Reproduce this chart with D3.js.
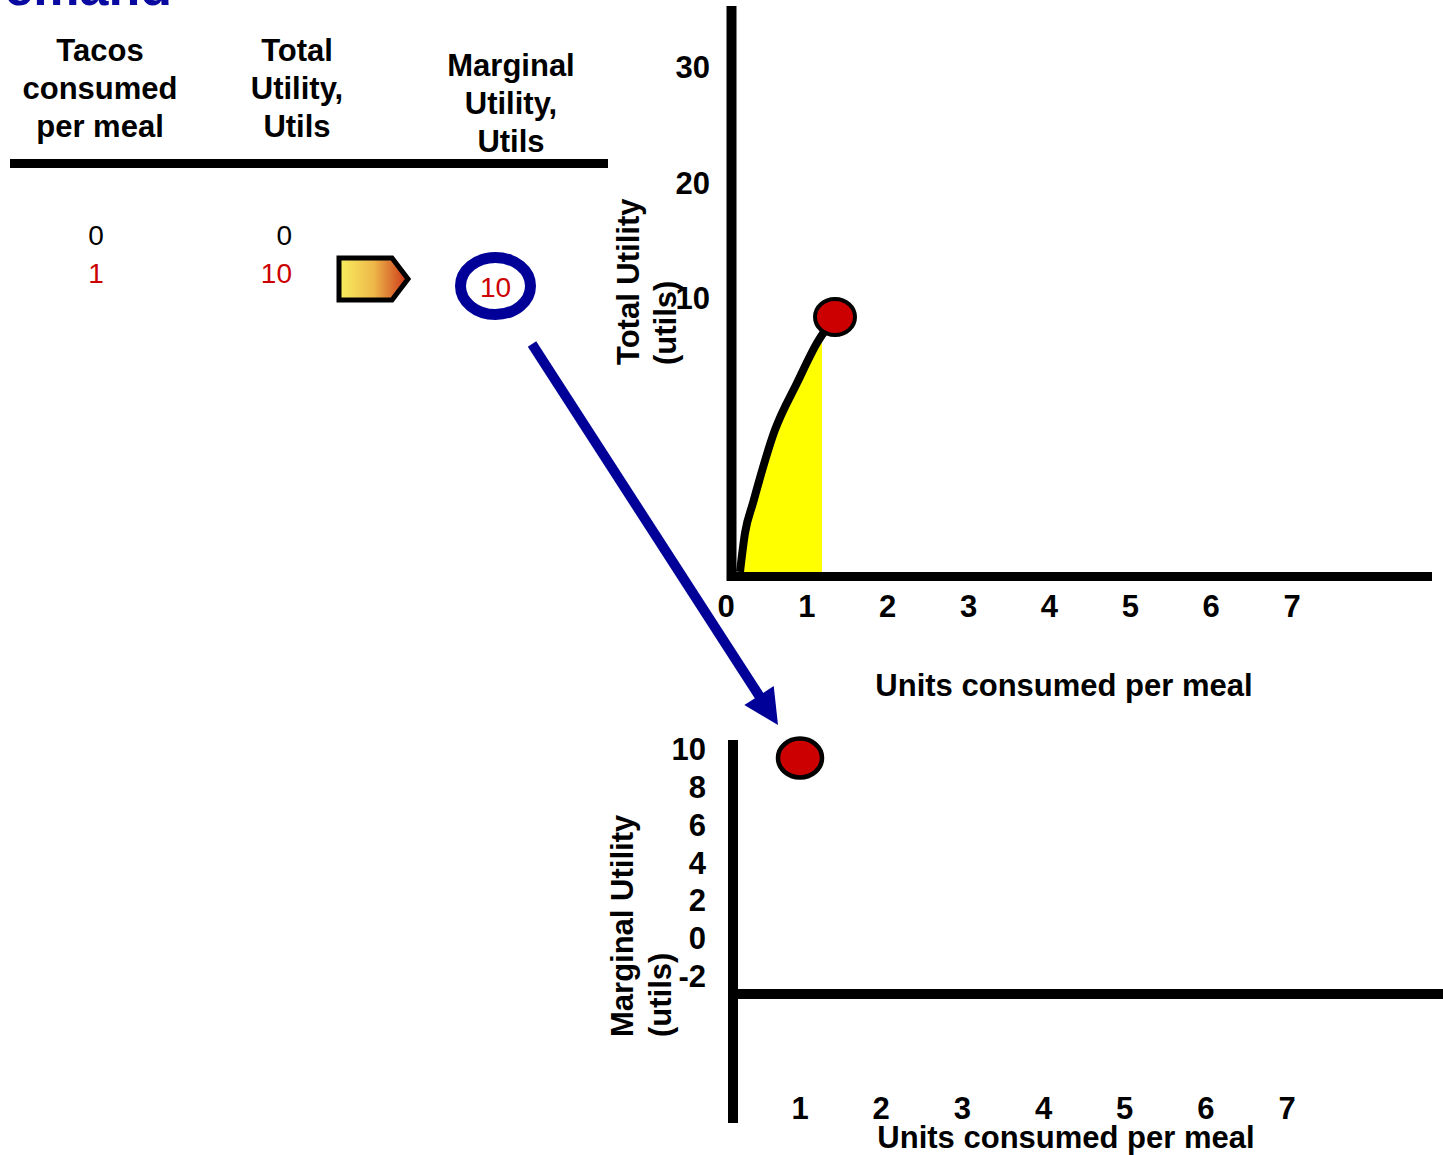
<!DOCTYPE html>
<html>
<head>
<meta charset="utf-8">
<script src="https://cdn.jsdelivr.net/npm/d3@7"></script>
<style>
  body { margin: 0; background: #fff; }
  text { font-family: Arial, "Liberation Sans", sans-serif; }
</style>
</head>
<body>
<div id="chart"></div>
<script>
// table data
var tacos = [0, 1];
var totalUtility = [0, 10];
var marginalUtility = [null, 10];
var headers = [
  ["Tacos", "consumed", "per meal"],
  ["Total", "Utility,", "Utils"],
  ["Marginal", "Utility,", "Utils"]
];

// tick labels
var topXTicks = [0, 1, 2, 3, 4, 5, 6, 7];
var topYTicks = [10, 20, 30];
var botXTicks = [1, 2, 3, 4, 5, 6, 7];
var botYTicks = [10, 8, 6, 4, 2, 0, -2];

// total utility curve as drawn (units, utils)
var curveX = [0, 0.053, 0.137, 0.368, 0.6, 0.81, 1];
var curveY = [0, 1.53, 2.71, 5.57, 7.41, 8.98, 10];
// shaded area stops a little before the point
var areaX = [0, 0.053, 0.137, 0.368, 0.6, 0.81, 0.863];
var areaY = [0, 1.53, 2.71, 5.57, 7.41, 8.98, 9.4];

var w = 1443, h = 1155;
var blue = "#000099", red = "#cc0000";

var svg = d3.select("#chart")
    .append("svg")
    .attr("width", w)
    .attr("height", h);

var defs = svg.append("defs");
var grad = defs.append("linearGradient").attr("id", "tag");
grad.append("stop").attr("offset", "0%").attr("stop-color", "#f8ee5e");
grad.append("stop").attr("offset", "50%").attr("stop-color", "#eeb84a");
grad.append("stop").attr("offset", "100%").attr("stop-color", "#cc3418");

// clipped slide title
svg.append("text")
    .attr("x", 172).attr("y", 5)
    .attr("text-anchor", "end")
    .style("font-size", "52px").style("font-weight", "bold")
    .style("fill", "#0a0aa0")
    .text("Demand");

// ---- table ----
var colX = [100, 297, 511];
var headTop = [61, 61, 76];
headers.forEach(function(lines, i) {
  lines.forEach(function(s, j) {
    svg.append("text")
        .attr("x", colX[i]).attr("y", headTop[i] + j * 38)
        .attr("text-anchor", "middle")
        .style("font-size", "31px").style("font-weight", "bold")
        .text(s);
  });
});

svg.append("line")
    .attr("x1", 10).attr("x2", 608)
    .attr("y1", 163.5).attr("y2", 163.5)
    .style("stroke", "#000").style("stroke-width", 9);

var rowY = d3.scaleLinear().domain([0, 1]).range([245, 283]);
var last = tacos.length - 1;

svg.selectAll(".c1").data(tacos).enter().append("text")
    .attr("x", 96).attr("y", function(d, i) { return rowY(i); })
    .attr("text-anchor", "middle")
    .style("font-size", "28px")
    .style("fill", function(d, i) { return i == last ? red : "#000"; })
    .text(function(d) { return d; });

svg.selectAll(".c2").data(totalUtility).enter().append("text")
    .attr("x", 292).attr("y", function(d, i) { return rowY(i); })
    .attr("text-anchor", "end")
    .style("font-size", "28px")
    .style("fill", function(d, i) { return i == last ? red : "#000"; })
    .text(function(d) { return d; });

// arrow tag pointing to marginal utility
svg.append("polygon")
    .attr("points", "339,258 392,258 408,279 392,300 339,300")
    .style("fill", "url(#tag)")
    .style("stroke", "#000").style("stroke-width", 5);

var muCx = 495.5, muCy = 286;
svg.append("ellipse")
    .attr("cx", muCx).attr("cy", muCy)
    .attr("rx", 35).attr("ry", 28.5)
    .style("fill", "none").style("stroke", blue).style("stroke-width", 11);
svg.append("text")
    .attr("x", muCx).attr("y", muCy + 11)
    .attr("text-anchor", "middle")
    .style("font-size", "28px").style("fill", red)
    .text(marginalUtility[last]);

// ---- top chart: total utility ----
var tx = d3.scaleLinear().domain([0, 7]).range([726, 1292]);
var ty = d3.scaleLinear().domain([10, 30]).range([298, 67]);
var px = d3.scaleLinear().domain([0, 1]).range([740, 835]);
var py = d3.scaleLinear().domain([0, 10]).range([572, 317]);

var area = d3.area()
    .x(function(d) { return px(d[0]); })
    .y0(py(0))
    .y1(function(d) { return py(d[1]); })
    .curve(d3.curveMonotoneX);
svg.append("path")
    .datum(d3.zip(areaX, areaY))
    .attr("d", area)
    .style("fill", "#ffff00");

var line = d3.line()
    .x(function(d) { return px(d[0]); })
    .y(function(d) { return py(d[1]); })
    .curve(d3.curveMonotoneX);
svg.append("path")
    .datum(d3.zip(curveX, curveY))
    .attr("d", line)
    .style("fill", "none").style("stroke", "#000").style("stroke-width", 8)
    .style("stroke-linejoin", "round");

svg.append("line")
    .attr("x1", 731.5).attr("x2", 731.5).attr("y1", 6).attr("y2", 581)
    .style("stroke", "#000").style("stroke-width", 10);
svg.append("line")
    .attr("x1", 727).attr("x2", 1432).attr("y1", 576.5).attr("y2", 576.5)
    .style("stroke", "#000").style("stroke-width", 9);

svg.append("ellipse")
    .attr("cx", px(tacos[last])).attr("cy", py(totalUtility[last]))
    .attr("rx", 20).attr("ry", 18)
    .style("fill", red).style("stroke", "#000").style("stroke-width", 4);

svg.selectAll(".tx").data(topXTicks).enter().append("text")
    .attr("x", function(d) { return tx(d); }).attr("y", 617)
    .attr("text-anchor", "middle")
    .style("font-size", "31px").style("font-weight", "bold")
    .text(function(d) { return d; });

svg.selectAll(".ty").data(topYTicks).enter().append("text")
    .attr("x", 710).attr("y", function(d) { return ty(d) + 11; })
    .attr("text-anchor", "end")
    .style("font-size", "31px").style("font-weight", "bold")
    .text(function(d) { return d; });

svg.append("text")
    .attr("transform", "translate(639,365) rotate(-90)")
    .style("font-size", "31px").style("font-weight", "bold")
    .text("Total Utility");
svg.append("text")
    .attr("transform", "translate(676,365) rotate(-90)")
    .style("font-size", "31px").style("font-weight", "bold")
    .text("(utils)");

svg.append("text")
    .attr("x", 1064).attr("y", 696)
    .attr("text-anchor", "middle")
    .style("font-size", "31px").style("font-weight", "bold")
    .text("Units consumed per meal");

// ---- bottom chart: marginal utility ----
var bx = d3.scaleLinear().domain([1, 7]).range([800, 1287]);
var by = d3.scaleLinear().domain([-2, 10]).range([985, 758]);

svg.append("line")
    .attr("x1", 733).attr("x2", 733).attr("y1", 740).attr("y2", 1123)
    .style("stroke", "#000").style("stroke-width", 10);
svg.append("line")
    .attr("x1", 733).attr("x2", 1443).attr("y1", 994).attr("y2", 994)
    .style("stroke", "#000").style("stroke-width", 10);

svg.selectAll(".by").data(botYTicks).enter().append("text")
    .attr("x", 706).attr("y", function(d) { return by(d) + 2; })
    .attr("text-anchor", "end")
    .style("font-size", "31px").style("font-weight", "bold")
    .text(function(d) { return d; });

svg.selectAll(".bx").data(botXTicks).enter().append("text")
    .attr("x", function(d) { return bx(d); }).attr("y", 1119)
    .attr("text-anchor", "middle")
    .style("font-size", "31px").style("font-weight", "bold")
    .text(function(d) { return d; });

var mx = bx(tacos[last]), my = by(marginalUtility[last]);
svg.append("ellipse")
    .attr("cx", mx).attr("cy", my)
    .attr("rx", 22).attr("ry", 19.5)
    .style("fill", red).style("stroke", "#000").style("stroke-width", 4.5);

svg.append("text")
    .attr("transform", "translate(633,1037) rotate(-90)")
    .style("font-size", "31px").style("font-weight", "bold")
    .text("Marginal Utility");
svg.append("text")
    .attr("transform", "translate(671,1037) rotate(-90)")
    .style("font-size", "31px").style("font-weight", "bold")
    .text("(utils)");

svg.append("text")
    .attr("x", 1066).attr("y", 1148)
    .attr("text-anchor", "middle")
    .style("font-size", "31px").style("font-weight", "bold")
    .text("Units consumed per meal");

// ---- blue arrow from the MU cell down to the MU point ----
var x0 = muCx + 36.5, y0 = muCy + 58;
var tipX = mx - 22, tipY = my - 33;
var dx = tipX - x0, dy = tipY - y0, len = Math.sqrt(dx * dx + dy * dy);
var ux = dx / len, uy = dy / len;
var headLen = 35, headHalf = 17.5;
var bxm = tipX - ux * headLen, bym = tipY - uy * headLen;

svg.append("line")
    .attr("x1", x0).attr("y1", y0)
    .attr("x2", bxm + ux * 2).attr("y2", bym + uy * 2)
    .style("stroke", blue).style("stroke-width", 10);
svg.append("polygon")
    .attr("points", [
      [tipX, tipY],
      [bxm - uy * headHalf, bym + ux * headHalf],
      [bxm + uy * headHalf, bym - ux * headHalf]
    ].map(function(p) { return p.join(","); }).join(" "))
    .style("fill", blue);
</script>
</body>
</html>
